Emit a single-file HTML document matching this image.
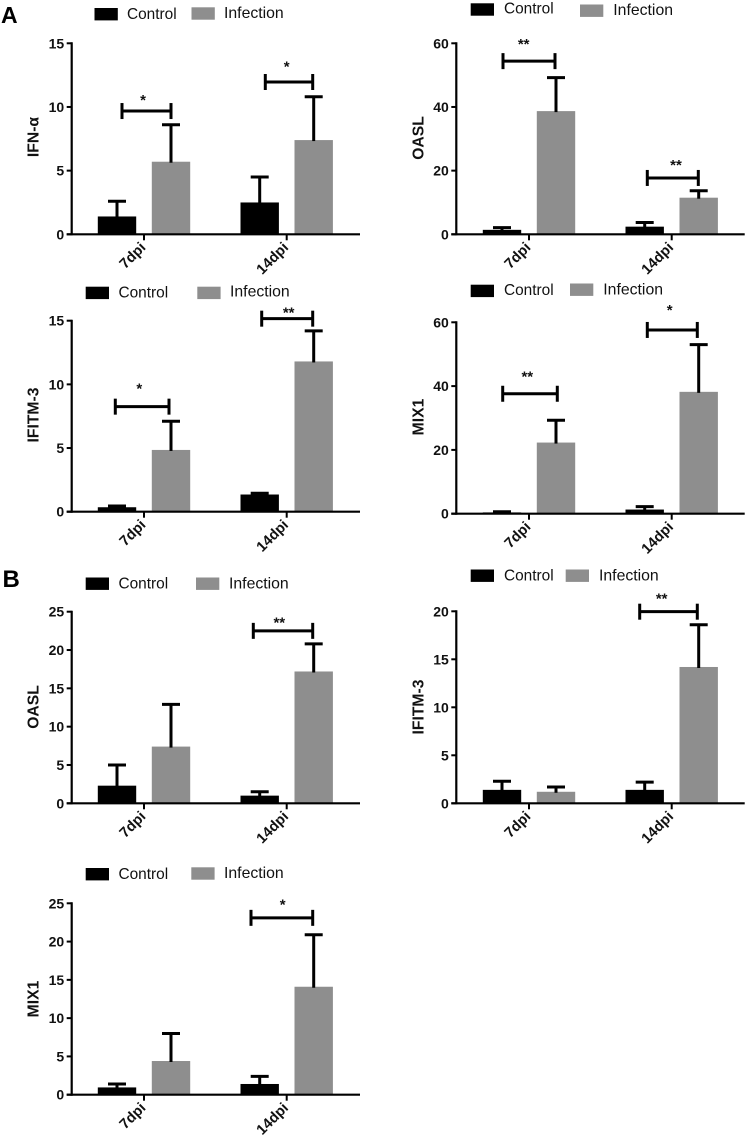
<!DOCTYPE html>
<html lang="en">
<head>
<meta charset="utf-8">
<title>Control vs Infection gene expression</title>
<style>
html,body{margin:0;padding:0;background:#fff;}
#figure{display:block;width:747px;height:1136px;filter:blur(0.35px);font-family:"Liberation Sans",sans-serif;}
</style>
</head>
<body>
<svg id="figure" xmlns="http://www.w3.org/2000/svg" width="747" height="1136" viewBox="0 0 747 1136">
<text x="1" y="23" font-size="23" font-weight="700" fill="#000">A</text>
<text x="2.5" y="587" font-size="24" font-weight="700" fill="#000">B</text>
</svg>
<script>
const categories = ['7dpi', '14dpi'];
const seriesNames = ['Control', 'Infection'];

const ifnAControlMeans = [1.4, 2.5];
const ifnAControlTops = [2.6, 4.5];
const ifnAInfectionMeans = [5.7, 7.4];
const ifnAInfectionTops = [8.6, 10.8];
const ifnATicks = [0, 5, 10, 15];
const ifnASigLevels = [9.68, 11.96];
const ifnASigLabels = ['*', '*'];

const oaslAControlMeans = [1.4, 2.4];
const oaslAControlTops = [2.1, 3.7];
const oaslAInfectionMeans = [38.7, 11.5];
const oaslAInfectionTops = [49.2, 13.7];
const oaslATicks = [0, 20, 40, 60];
const oaslASigLevels = [54.4, 17.7];
const oaslASigLabels = ['**', '**'];

const ifitmAControlMeans = [0.35, 1.35];
const ifitmAControlTops = [0.45, 1.45];
const ifitmAInfectionMeans = [4.85, 11.8];
const ifitmAInfectionTops = [7.1, 14.2];
const ifitmATicks = [0, 5, 10, 15];
const ifitmASigLevels = [8.25, 15.16];
const ifitmASigLabels = ['*', '**'];

const mixAControlMeans = [0.4, 1.3];
const mixAControlTops = [0.6, 2.2];
const mixAInfectionMeans = [22.3, 38.2];
const mixAInfectionTops = [29.3, 53];
const mixATicks = [0, 20, 40, 60];
const mixASigLevels = [37.6, 57.6];
const mixASigLabels = ['**', '*'];

const oaslBControlMeans = [2.3, 1.0];
const oaslBControlTops = [5, 1.5];
const oaslBInfectionMeans = [7.4, 17.2];
const oaslBInfectionTops = [12.9, 20.8];
const oaslBTicks = [0, 5, 10, 15, 20, 25];
const oaslBSigLevels = [null, 22.5];
const oaslBSigLabels = [null, '**'];

const ifitmBControlMeans = [1.4, 1.4];
const ifitmBControlTops = [2.3, 2.2];
const ifitmBInfectionMeans = [1.2, 14.2];
const ifitmBInfectionTops = [1.7, 18.6];
const ifitmBTicks = [0, 5, 10, 15, 20];
const ifitmBSigLevels = [null, 19.96];
const ifitmBSigLabels = [null, '**'];

const mixBControlMeans = [0.95, 1.4];
const mixBControlTops = [1.4, 2.4];
const mixBInfectionMeans = [4.4, 14.1];
const mixBInfectionTops = [8, 20.9];
const mixBTicks = [0, 5, 10, 15, 20, 25];
const mixBSigLevels = [null, 23.1];
const mixBSigLabels = [null, '*'];

/* Layout of each panel (pixels), kept apart from the data arrays above. */
const panels = [
  {key:'ifn-alpha-a', title:'IFN-α', c:ifnAControlMeans, ct:ifnAControlTops, i:ifnAInfectionMeans, it:ifnAInfectionTops, ticks:ifnATicks, sig:ifnASigLevels, sigL:ifnASigLabels,
   ax:71.7, y0:234.3, yT:43.3, xEnd:360, gx:[144,286.7], titleX:33, titleY:137,
   lg:{cs:94.5, cy:8, ct:127, cty:13.3, is:191.5, iy:7.3, it:224, ity:12.3},
   br:[[122,171,143,96.7],[265.3,312.7,286.7,63.3]]},
  {key:'oasl-a', title:'OASL', c:oaslAControlMeans, ct:oaslAControlTops, i:oaslAInfectionMeans, it:oaslAInfectionTops, ticks:oaslATicks, sig:oaslASigLevels, sigL:oaslASigLabels,
   ax:456.3, y0:234.3, yT:43.3, xEnd:744.7, gx:[529,671.7], titleX:418, titleY:138,
   lg:{cs:470.7, cy:3.3, ct:504, cty:8, is:580, iy:4.5, it:613.3, ity:9.5},
   br:[[503,555,523.7,40.7],[647.3,698.3,676,161.7]]},
  {key:'ifitm3-a', title:'IFITM-3', c:ifitmAControlMeans, ct:ifitmAControlTops, i:ifitmAInfectionMeans, it:ifitmAInfectionTops, ticks:ifitmATicks, sig:ifitmASigLevels, sigL:ifitmASigLabels,
   ax:71.7, y0:511.7, yT:320.7, xEnd:360, gx:[144,286.7], titleX:33, titleY:415,
   lg:{cs:85.7, cy:286.7, ct:118.5, cty:292, is:197.3, iy:286.7, it:230, ity:291},
   br:[[115.3,169,139.3,385.3],[261.7,312.7,288.7,309.3]]},
  {key:'mix1-a', title:'MIX1', c:mixAControlMeans, ct:mixAControlTops, i:mixAInfectionMeans, it:mixAInfectionTops, ticks:mixATicks, sig:mixASigLevels, sigL:mixASigLabels,
   ax:456.3, y0:513.7, yT:322.3, xEnd:744.7, gx:[529,671.7], titleX:418, titleY:417,
   lg:{cs:470.7, cy:284.7, ct:504, cty:289.3, is:570, iy:283.5, it:603.3, ity:288.7},
   br:[[502.7,557.3,527.3,373.3],[647.3,697.3,669.7,306.7]]},
  {key:'oasl-b', title:'OASL', c:oaslBControlMeans, ct:oaslBControlTops, i:oaslBInfectionMeans, it:oaslBInfectionTops, ticks:oaslBTicks, sig:oaslBSigLevels, sigL:oaslBSigLabels,
   ax:71.7, y0:803.3, yT:611.7, xEnd:360, gx:[144,286.7], titleX:33, titleY:707,
   lg:{cs:85.7, cy:577.5, ct:118.5, cty:582.7, is:196, iy:577.5, it:229, ity:582.7},
   br:[null,[253.3,312.7,279.3,619.3]]},
  {key:'ifitm3-b', title:'IFITM-3', c:ifitmBControlMeans, ct:ifitmBControlTops, i:ifitmBInfectionMeans, it:ifitmBInfectionTops, ticks:ifitmBTicks, sig:ifitmBSigLevels, sigL:ifitmBSigLabels,
   ax:456.3, y0:803.3, yT:611.3, xEnd:744.7, gx:[529,671.7], titleX:418, titleY:707,
   lg:{cs:470.7, cy:569.5, ct:504, cty:575, is:565.7, iy:569.5, it:599, ity:575},
   br:[null,[639.7,697.3,661.7,595]]},
  {key:'mix1-b', title:'MIX1', c:mixBControlMeans, ct:mixBControlTops, i:mixBInfectionMeans, it:mixBInfectionTops, ticks:mixBTicks, sig:mixBSigLevels, sigL:mixBSigLabels,
   ax:71.7, y0:1094.7, yT:903.3, xEnd:360, gx:[144,286.7], titleX:33, titleY:999,
   lg:{cs:85.7, cy:868, ct:118.5, cty:873.3, is:191.3, iy:867.3, it:224, ity:872.5},
   br:[null,[251,312.7,282.7,901]]}
];

const NS = 'http://www.w3.org/2000/svg';
const svg = document.getElementById('figure');
const BAR_W = 38.4, BAR_OFF = 27, CAP_W = 18, LINE = 3;
const GREY = '#8e8e8e', INK = '#000';

function make(parent, tag, props) {
  const el = document.createElementNS(NS, tag);
  for (const k in props) el.setAttribute(k, props[k]);
  parent.appendChild(el);
  return el;
}

function drawPanel(p) {
  const g = make(svg, 'g', {});
  
  

  const maxTick = p.ticks[p.ticks.length - 1];
  const yScale = v => p.y0 - (v / maxTick) * (p.y0 - p.yT);
  const xBar = (groupIdx, seriesIdx) => p.gx[groupIdx] + (seriesIdx === 0 ? -BAR_OFF : BAR_OFF);

  /* legend */
  const sw1 = make(g, 'rect', {x:p.lg.cs, y:p.lg.cy, width:23.3, height:12.4, fill:INK});
  
  
  const lt1 = make(g, 'text', {x:p.lg.ct, y:p.lg.cty + 5.6, 'font-size':15.4, fill:'#111'});
  lt1.textContent = seriesNames[0];
  
  
  const sw2 = make(g, 'rect', {x:p.lg.is, y:p.lg.iy, width:23.3, height:12.4, fill:GREY});
  
  
  const lt2 = make(g, 'text', {x:p.lg.it, y:p.lg.ity + 5.6, 'font-size':15.8, fill:'#111'});
  lt2.textContent = seriesNames[1];
  
  

  /* bars and error bars */
  [[p.c, p.ct, INK, 'control'], [p.i, p.it, GREY, 'infection']].forEach((s, si) => {
    categories.forEach((cat, ci) => {
      const cx = xBar(ci, si);
      const yTop = yScale(s[0][ci]);
      const yErr = yScale(s[1][ci]);
      const bar = make(g, 'rect', {x:cx - BAR_W / 2, y:yTop, width:BAR_W, height:p.y0 - yTop, fill:s[2]});
      
      
      const stem = make(g, 'line', {x1:cx, x2:cx, y1:yTop + 1, y2:yErr, stroke:INK, 'stroke-width':LINE});
      
      
      const cap = make(g, 'line', {x1:cx - CAP_W / 2, x2:cx + CAP_W / 2, y1:yErr, y2:yErr, stroke:INK, 'stroke-width':LINE});
      
      
    });
  });

  /* axes */
  const yAxis = make(g, 'line', {x1:p.ax, x2:p.ax, y1:p.yT - 1, y2:p.y0 + 1, stroke:INK, 'stroke-width':2.2});
  
  
  const xAxis = make(g, 'line', {x1:p.ax - 5, x2:p.xEnd, y1:p.y0, y2:p.y0, stroke:INK, 'stroke-width':2.2});
  
  

  p.ticks.forEach(t => {
    const y = yScale(t);
    const tick = make(g, 'line', {x1:p.ax - 5, x2:p.ax, y1:y, y2:y, stroke:INK, 'stroke-width':2});
    
    
    const lab = make(g, 'text', {x:p.ax - 7.5, y:y + 5, 'font-size':14, 'font-weight':700, 'text-anchor':'end', fill:'#111'});
    lab.textContent = t;
    
    
  });

  categories.forEach((cat, ci) => {
    const x = p.gx[ci];
    const tick = make(g, 'line', {x1:x, x2:x, y1:p.y0, y2:p.y0 + 6, stroke:INK, 'stroke-width':2});
    
    
    const lx = x + 2.5, ly = p.y0 + 14;
    const lab = make(g, 'text', {x:lx, y:ly, 'font-size':14.6, 'font-weight':700, 'text-anchor':'end', fill:'#111', transform:'rotate(-45 ' + lx + ' ' + ly + ')'});
    lab.textContent = cat;
    
    
  });

  const tx = p.titleX + 5.4;
  const title = make(g, 'text', {x:tx, y:p.titleY, 'font-size':15.7, 'font-weight':700, 'text-anchor':'middle', fill:'#111', transform:'rotate(-90 ' + tx + ' ' + p.titleY + ')'});
  title.textContent = p.title;
  
  

  /* significance brackets */
  p.sig.forEach((level, k) => {
    if (level === null) return;
    const b = p.br[k];
    const y = yScale(level);
    const span = make(g, 'line', {x1:b[0], x2:b[1], y1:y, y2:y, stroke:INK, 'stroke-width':LINE});
    
    
    const left = make(g, 'line', {x1:b[0], x2:b[0], y1:y - 8, y2:y + 8, stroke:INK, 'stroke-width':LINE});
    
    
    const right = make(g, 'line', {x1:b[1], x2:b[1], y1:y - 8, y2:y + 8, stroke:INK, 'stroke-width':LINE});
    
    
    const star = make(g, 'text', {x:b[2], y:b[3] + 8.4, 'font-size':15, 'font-weight':700, 'text-anchor':'middle', fill:'#111'});
    star.textContent = p.sigL[k];
    
    
  });
}

panels.forEach(drawPanel);
</script>
</body>
</html>
